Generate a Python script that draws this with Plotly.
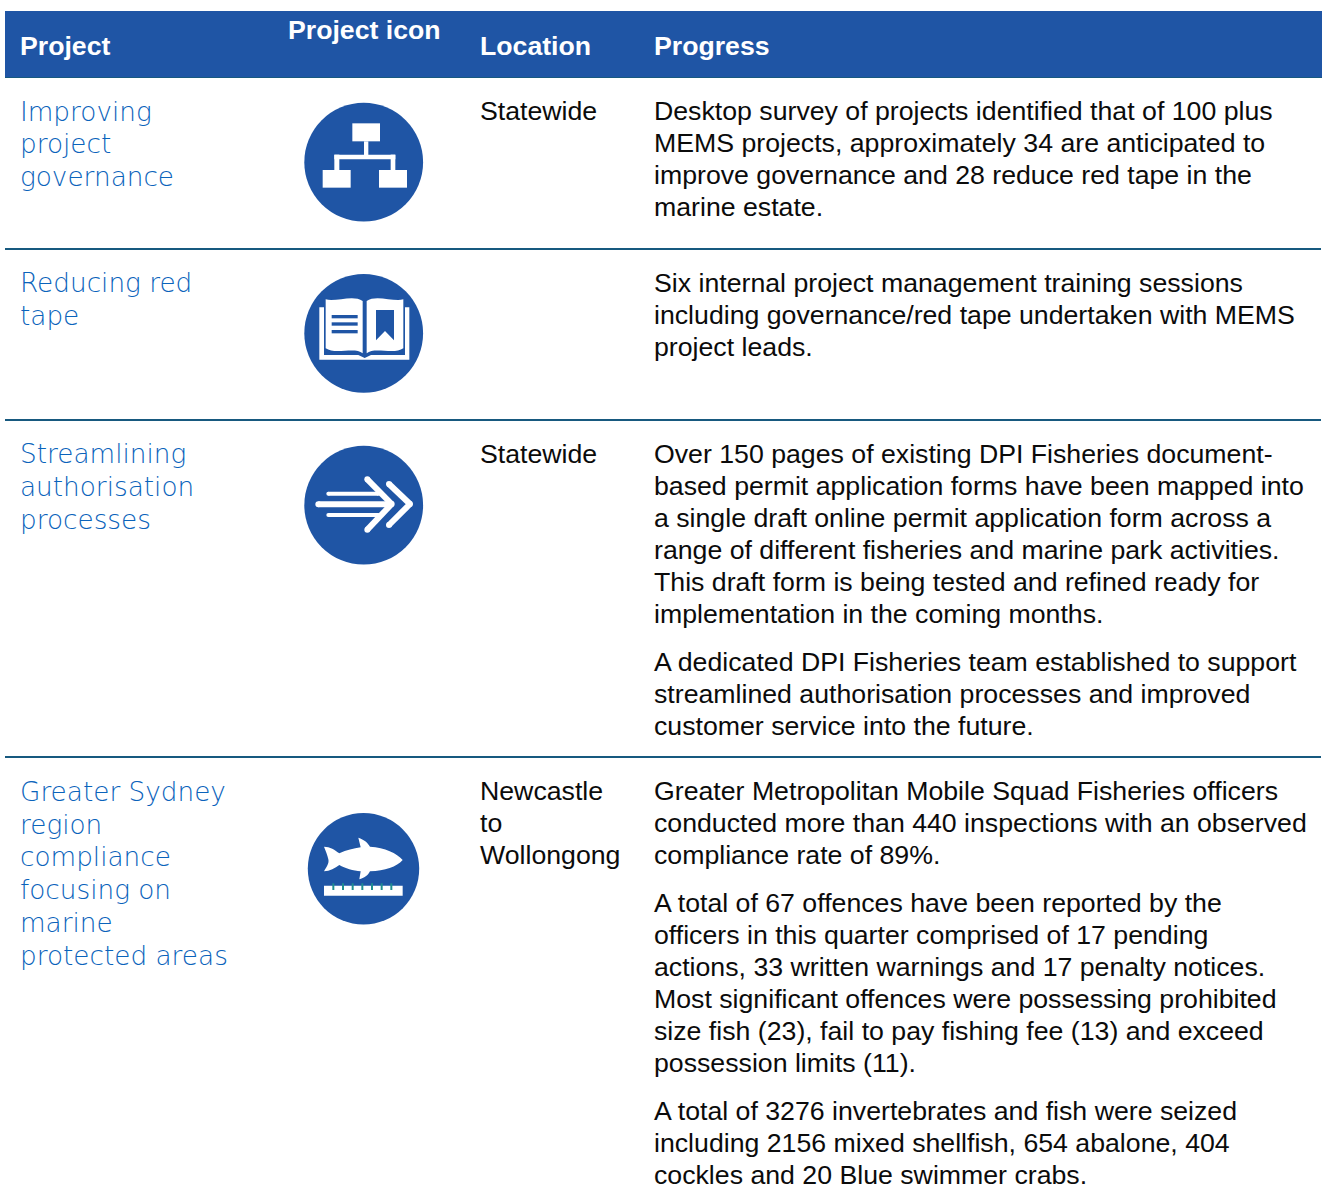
import plotly.graph_objects as go

W, H = 1323, 1197
HEADER_BLUE = "#1F55A5"
RULE = "#17597F"
NAME_BLUE = "#0A63BB"
BODY = "#0B0B0B"
SANS = "Liberation Sans"
NAME_FONT = "DejaVu Sans"

headers = ["Project", "Project icon", "Location", "Progress"]
header_x = [20, 287.5, 480, 654]
header_y = [46, 30, 46, 46]

project_lines = ["Improving", "project", "governance", "Reducing red", "tape",
                 "Streamlining", "authorisation", "processes",
                 "Greater Sydney", "region", "compliance", "focusing on", "marine", "protected areas"]
project_y = [112, 144, 177, 283, 316, 454, 487, 520, 792, 825, 857, 890, 923, 956]

location_lines = ["Statewide", "Statewide", "Newcastle", "to", "Wollongong"]
location_y = [111, 454, 791, 823, 855]

progress_lines = [
    "Desktop survey of projects identified that of 100 plus",
    "MEMS projects, approximately 34 are anticipated to",
    "improve governance and 28 reduce red tape in the",
    "marine estate.",
    "Six internal project management training sessions",
    "including governance/red tape undertaken with MEMS",
    "project leads.",
    "Over 150 pages of existing DPI Fisheries document-",
    "based permit application forms have been mapped into",
    "a single draft online permit application form across a",
    "range of different fisheries and marine park activities.",
    "This draft form is being tested and refined ready for",
    "implementation in the coming months.",
    "A dedicated DPI Fisheries team established to support",
    "streamlined authorisation processes and improved",
    "customer service into the future.",
    "Greater Metropolitan Mobile Squad Fisheries officers",
    "conducted more than 440 inspections with an observed",
    "compliance rate of 89%.",
    "A total of 67 offences have been reported by the",
    "officers in this quarter comprised of 17 pending",
    "actions, 33 written warnings and 17 penalty notices.",
    "Most significant offences were possessing prohibited",
    "size fish (23), fail to pay fishing fee (13) and exceed",
    "possession limits (11).",
    "A total of 3276 invertebrates and fish were seized",
    "including 2156 mixed shellfish, 654 abalone, 404",
    "cockles and 20 Blue swimmer crabs.",
]
progress_y = [111, 143, 175, 207, 283, 315, 347, 454, 486, 518, 550, 582, 614,
              662, 694, 726, 791, 823, 855, 903, 935, 967, 999, 1031, 1063, 1111, 1143, 1175]

rule_y = [249, 420, 757]
icon_centers = [(363.7, 162.2, 59.4), (363.7, 333.3, 59.4), (363.7, 505.2, 59.4), (363.5, 868.8, 55.7)]

shapes = []
annotations = []


def rect(x0, y0, x1, y1, color):
    shapes.append(dict(type="rect", x0=x0, y0=y0, x1=x1, y1=y1, fillcolor=color,
                       line=dict(width=0), layer="above"))


def circle(cx, cy, r, color):
    shapes.append(dict(type="circle", x0=cx - r, y0=cy - r, x1=cx + r, y1=cy + r,
                       fillcolor=color, line=dict(width=0), layer="above"))


def path(d, color):
    shapes.append(dict(type="path", path=d, fillcolor=color, line=dict(width=0), layer="above"))


def zpath(ox, oy, cmds, color):
    """cmds: list of (letter, x, y, x, y ...) in 3x crop coordinates."""
    out = []
    for c in cmds:
        if c[0] == "Z":
            out.append("Z")
            continue
        pts = [f"{ox + c[i] / 3:.2f},{oy + c[i + 1] / 3:.2f}" for i in range(1, len(c), 2)]
        out.append(c[0] + " " + " ".join(pts))
    path(" ".join(out), color)


def round_line(ox, oy, pts, width):
    for a, b in zip(pts, pts[1:]):
        shapes.append(dict(type="line", x0=ox + a[0] / 3, y0=oy + a[1] / 3,
                           x1=ox + b[0] / 3, y1=oy + b[1] / 3,
                           line=dict(color="white", width=width), layer="above"))
    for p in pts:
        circle(ox + p[0] / 3, oy + p[1] / 3, width / 2, "white")


def text(x, y, s, size, color, family, bold=False, weight=None):
    font = dict(size=size, color=color, family=family)
    if weight:
        font["weight"] = weight
    annotations.append(dict(x=x, y=y, text=f"<b>{s}</b>" if bold else s, xref="x", yref="y",
                            showarrow=False, xanchor="left", yanchor="middle", align="left",
                            borderpad=0, borderwidth=0, font=font))


# header band and rules
rect(5, 11, 1322, 77, HEADER_BLUE)
rect(5, 77, 1322, 78, RULE)
for ry in rule_y:
    rect(5, ry - 1, 1321, ry + 1, RULE)

for (cx, cy, r) in icon_centers:
    circle(cx, cy, r, HEADER_BLUE)

# icon 1: org chart
ox, oy = 290, 90
for r_ in [(187, 100, 270, 154), (222, 154, 235, 196), (133, 194, 316, 208), (133, 194, 148, 242),
           (302, 194, 316, 242), (98, 240, 182, 293), (267, 240, 351, 293)]:
    rect(ox + r_[0] / 3, oy + r_[1] / 3, ox + r_[2] / 3, oy + r_[3] / 3, "white")

# icon 2: book
ox, oy = 290, 265
zpath(ox, oy, [("M", 88, 127), ("L", 102, 127), ("L", 102, 270), ("L", 205, 270), ("L", 224, 279),
               ("L", 243, 270), ("L", 345, 270), ("L", 345, 127), ("L", 358, 127), ("L", 358, 284),
               ("L", 88, 284), ("Z",)], "white")
zpath(ox, oy, [("M", 107, 103), ("C", 135, 112, 190, 88, 218, 108), ("L", 218, 265),
               ("C", 195, 245, 135, 270, 107, 250), ("Z",)], "white")
zpath(ox, oy, [("M", 230, 108), ("C", 258, 88, 313, 112, 340, 103), ("L", 340, 250),
               ("C", 313, 270, 253, 245, 230, 265), ("Z",)], "white")
for yy in (150, 172, 195):
    rect(ox + 125 / 3, oy + yy / 3, ox + 203 / 3, oy + (yy + 10) / 3, HEADER_BLUE)
zpath(ox, oy, [("M", 258, 135), ("L", 312, 135), ("L", 312, 226), ("L", 285, 198), ("L", 258, 226), ("Z",)],
      HEADER_BLUE)

# icon 3: arrow
ox, oy = 290, 435
round_line(ox, oy, [(85, 208), (300, 208)], 6)
round_line(ox, oy, [(115, 176), (265, 176)], 4)
round_line(ox, oy, [(115, 240), (265, 240)], 4)
round_line(ox, oy, [(232, 133), (305, 207), (232, 284)], 6)
round_line(ox, oy, [(297, 147), (360, 207), (297, 270)], 6)

# icon 4: fish and ruler
ox, oy = 290, 800
zpath(ox, oy, [("M", 102, 140), ("C", 120, 140, 135, 150, 148, 160), ("C", 170, 150, 190, 145, 212, 142),
               ("L", 205, 113), ("C", 222, 118, 235, 130, 240, 140), ("C", 285, 142, 320, 160, 338, 180),
               ("C", 320, 200, 285, 213, 240, 214), ("C", 235, 225, 222, 235, 208, 238), ("L", 212, 214),
               ("C", 190, 212, 165, 205, 148, 195), ("C", 135, 205, 120, 213, 102, 214),
               ("C", 110, 200, 118, 190, 115, 178), ("C", 112, 165, 108, 155, 102, 140), ("Z",)], "white")
rect(ox + 102 / 3, oy + 257 / 3, ox + 338 / 3, oy + 287 / 3, "white")
for tx in (130, 159, 188, 217, 246, 275, 304):
    rect(ox + (tx - 3) / 3, oy + 250 / 3, ox + (tx + 3) / 3, oy + 270 / 3, "#1F8F8F")

# text
for s, x, y in zip(headers, header_x, header_y):
    text(x, y, s, 26.67, "white", SANS, bold=True)
for s, y in zip(project_lines, project_y):
    text(20, y, s, 26.3, NAME_BLUE, NAME_FONT, weight=200)
for s, y in zip(location_lines, location_y):
    text(480, y, s, 26.7, BODY, SANS)
for s, y in zip(progress_lines, progress_y):
    text(654, y, s, 26.7, BODY, SANS)

fig = go.Figure()
fig.update_layout(
    width=W, height=H, margin=dict(l=0, r=0, t=0, b=0), autosize=False,
    paper_bgcolor="white", plot_bgcolor="white", showlegend=False,
    xaxis=dict(range=[0, W], visible=False, fixedrange=True),
    yaxis=dict(range=[H, 0], visible=False, fixedrange=True),
    shapes=shapes, annotations=annotations,
)
fig.write_html("out.html", config={"displayModeBar": False},
               post_script="document.body.style.margin='0';document.documentElement.style.overflow='hidden';")
